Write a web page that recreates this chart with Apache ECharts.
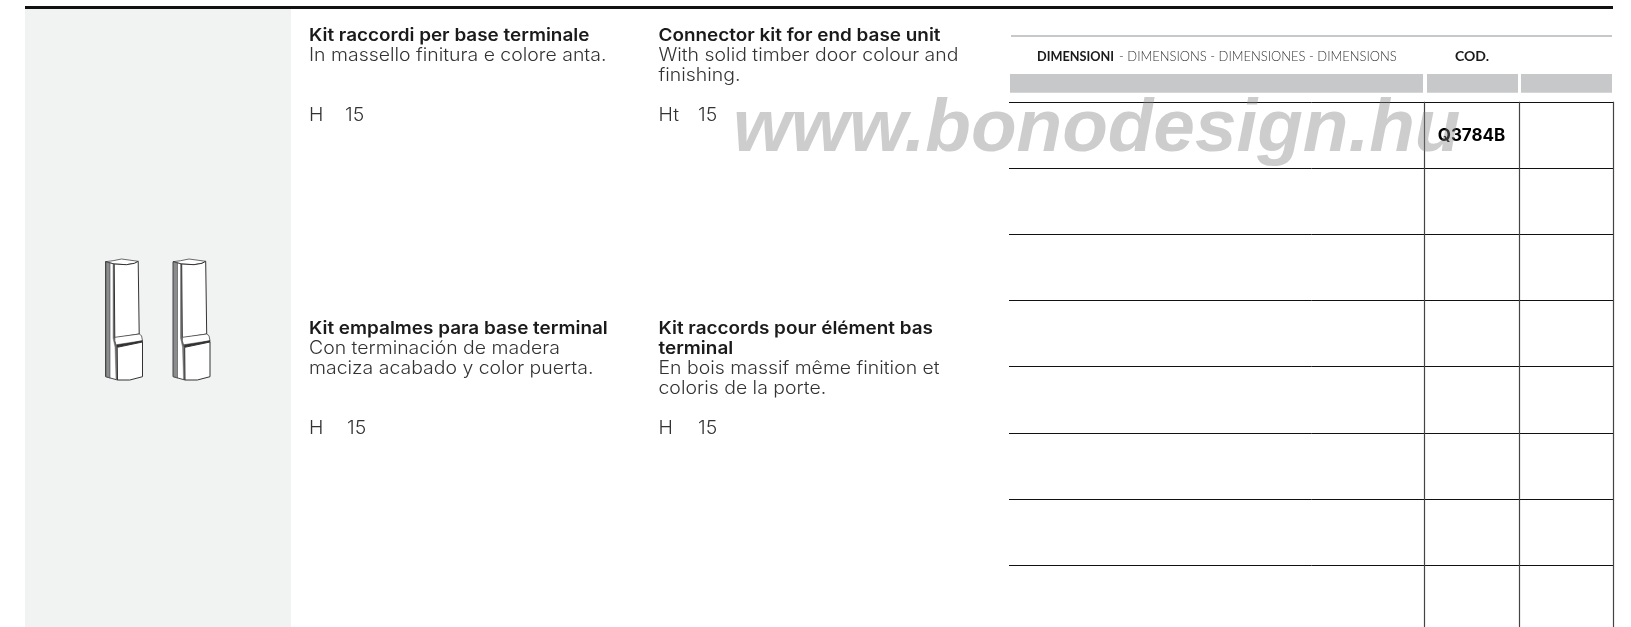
<!DOCTYPE html>
<html>
<head>
<meta charset="utf-8">
<title>Kit raccordi per base terminale</title>
<script src="https://cdn.jsdelivr.net/npm/echarts@6/dist/echarts.min.js"></script>
<style>
  html, body { margin: 0; padding: 0; background: #fff; }
  #chart { width: 1631px; height: 627px; }
</style>
</head>
<body>
<div id="chart"></div>
<script>
const kitTitles = [
  ['Kit raccordi per base terminale'],
  ['Connector kit for end base unit'],
  ['Kit empalmes para base terminal'],
  ['Kit raccords pour élément bas', 'terminal']
];
const kitBodies = [
  ['In massello finitura e colore anta.'],
  ['With solid timber door colour and', 'finishing.'],
  ['Con terminación de madera', 'maciza acabado y color puerta.'],
  ['En bois massif même finition et', 'coloris de la porte.']
];
const heightLabels = ['H', 'Ht', 'H', 'H'];
const heightValues = [15, 15, 15, 15];

const rowNames = ['r1', 'r2', 'r3', 'r4', 'r5', 'r6', 'r7', 'r8'];
const rowCodes = ['Q3784B', '', '', '', '', '', '', ''];
const dimensionHead = ['DIMENSIONI', '- DIMENSIONS - DIMENSIONES - DIMENSIONS'];
const codeHead = 'COD.';
const watermark = 'www.bonodesign.hu';

const FONT = 'Inter';
const HEAD_FONT = 'Lato';
const chart = echarts.init(document.getElementById('chart'));

// x, y of each text block in page pixels
const blockPos = [[309, 26.5], [658.5, 26.5], [309, 319.5], [658.5, 319.5]];
const heightPos = [[309, 345, 107], [658.5, 698, 107], [309, 347, 420], [658.5, 698, 420]];

function txt(x, y, s, font, fill, sx) {
  return { type: 'text', x, y, scaleX: sx || 1, style: { text: s, font, fill, textBaseline: 'middle' } };
}

const furniture = [
  { type: 'rect', shape: { x: 25, y: 9, width: 266, height: 618 }, style: { fill: '#f1f2f2' } },
  { type: 'rect', shape: { x: 25, y: 6, width: 1588, height: 3 }, style: { fill: '#111' } },
  { type: 'rect', shape: { x: 1011, y: 35, width: 601, height: 2 }, style: { fill: '#c6c8ca' } },
  { type: 'rect', shape: { x: 1010, y: 74, width: 413, height: 18.7 }, style: { fill: '#c6c8ca' } },
  { type: 'rect', shape: { x: 1427, y: 74, width: 91, height: 18.7 }, style: { fill: '#c6c8ca' } },
  { type: 'rect', shape: { x: 1521, y: 74, width: 91, height: 18.7 }, style: { fill: '#c6c8ca' } }
];

const TITLE_FONT = '600 17.5px ' + FONT;
const BODY_FONT = '300 18px ' + FONT;
const textEls = [];
kitTitles.forEach((title, i) => {
  let y = blockPos[i][1];
  title.forEach(line => { textEls.push(txt(blockPos[i][0], y, line, TITLE_FONT, '#1a1a1a', 1.08)); y += 20; });
  kitBodies[i].forEach(line => { textEls.push(txt(blockPos[i][0], y, line, BODY_FONT, '#333', 1.08)); y += 20; });
  textEls.push(txt(heightPos[i][0], heightPos[i][2], heightLabels[i], BODY_FONT, '#333', 1.08));
  textEls.push(txt(heightPos[i][1], heightPos[i][2], String(heightValues[i]), BODY_FONT, '#333', 1.08));
});
textEls.push(txt(1037, 50, dimensionHead[0], '700 12.7px ' + HEAD_FONT, '#1a1a1a'));
textEls.push(txt(1119, 50, dimensionHead[1], '300 12.95px ' + HEAD_FONT, '#333'));
textEls.push(txt(1455, 49, codeHead, '700 14px ' + HEAD_FONT, '#1a1a1a'));

// small cabinet sketch, drawn twice
function poly(points, fill, stroke, lw) {
  return { type: 'polygon', shape: { points }, style: { fill, stroke, lineWidth: lw } };
}
function piece(dx, dy) {
  const p = pts => pts.map(q => [q[0] + dx, q[1] + dy]);
  return [
    poly(p([[0, 2.7], [7.7, 1.7], [16, 0], [32.7, 2.3], [29, 4.3], [21, 5.7], [8.7, 5]]), '#fff', '#444', 0.8),
    poly(p([[0, 2.7], [8.7, 5], [9.3, 79], [11, 88], [12, 121], [0, 117.7]]), '#fff', '#333', 0.9),
    poly(p([[0.5, 3], [4.5, 4], [4.5, 119], [0.5, 117.5]]), '#8a8c8e', '#444', 0.6),
    poly(p([[7.5, 5], [9.3, 5], [9.8, 79], [11.5, 88], [12.5, 120], [10.5, 120], [9.5, 88], [7.5, 79]]), '#777', '#555', 0.4),
    poly(p([[8.7, 5], [21, 5.7], [29, 4.3], [32.7, 2.3], [33.7, 75], [9.3, 79]]), '#fff', '#333', 1),
    poly(p([[9.3, 78.3], [33.7, 75], [36, 76.7], [37, 81.7], [11, 87.7], [9.3, 81.7]]), '#fff', '#444', 0.8),
    poly(p([[11, 85.7], [37, 81.7], [37, 83.3], [12, 88.3]]), '#333', '#222', 0.5),
    poly(p([[11.7, 88.3], [37, 83], [37, 117.7], [24.3, 121], [12, 121]]), '#fff', '#333', 1)
  ];
}
const sketch = piece(105.5, 259).concat(piece(173, 259));

chart.setOption({
  animation: false,
  backgroundColor: '#fff',
  grid: { left: 1009, top: 101.8, width: 604.7, height: 529.6, outerBoundsMode: 'none' },
  xAxis: {
    type: 'value', min: 0, max: 604.7, show: false
  },
  yAxis: {
    type: 'category', data: rowNames, inverse: true,
    axisLine: { show: false }, axisTick: { show: false }, axisLabel: { show: false },
    splitLine: { show: true, lineStyle: { color: '#111', width: 1 } }
  },
  series: [{
    type: 'scatter',
    symbolSize: 0,
    itemStyle: { opacity: 1 },
    data: rowCodes.map((c, i) => [462.5, rowNames[i], c]),
    label: {
      show: true,
      formatter: p => p.value[2],
      position: 'inside',
      offset: [0, 1],
      fontFamily: FONT,
      fontWeight: 700,
      fontSize: 17,
      color: '#000',
      opacity: 1
    },
    markLine: {
      silent: true, symbol: 'none', label: { show: false },
      lineStyle: { type: 'solid', color: '#444', width: 1.2, opacity: 1 },
      data: [{ xAxis: 415.7 }, { xAxis: 510 }, { xAxis: 604.7 }]
    }
  }],
  graphic: { elements: furniture.concat(textEls, sketch, [{
    type: 'text', x: 733, y: 93, z: 100,
    style: {
      text: watermark, font: 'italic 700 74.7px "Liberation Sans"',
      fill: 'rgba(130,130,130,0.4)', textBaseline: 'middle'
    }
  }]) }
});
</script>
</body>
</html>
